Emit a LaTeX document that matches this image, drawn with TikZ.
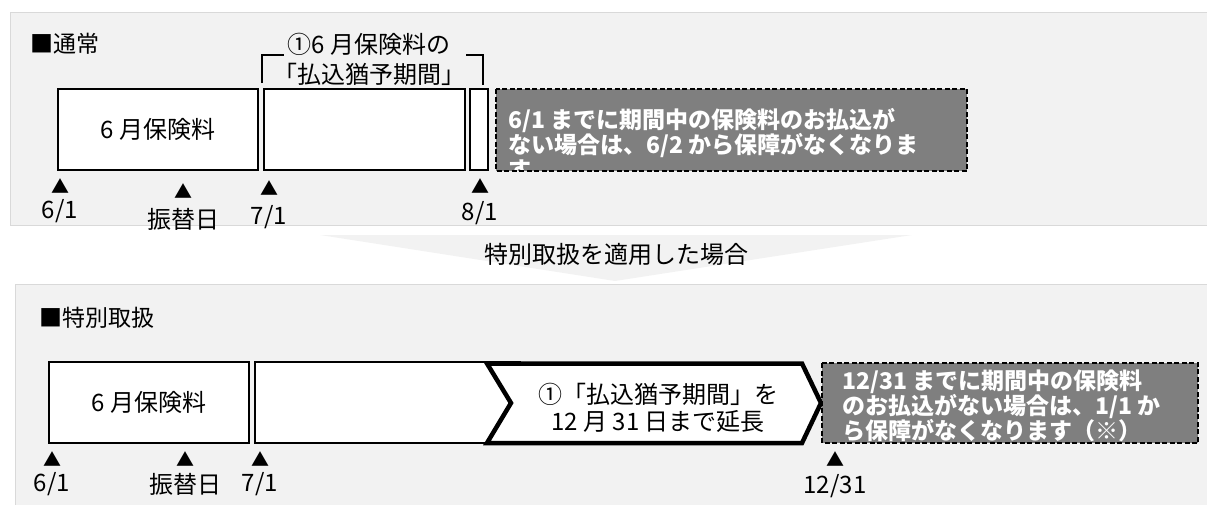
\documentclass[tikz,border=0pt]{standalone}
\usepackage{fontspec}
\setmainfont{Noto Sans CJK JP}
\usepackage{tikz}
\usetikzlibrary{positioning}
\definecolor{panelgray}{RGB}{242,242,242}
\definecolor{panelrule}{RGB}{217,217,217}
\definecolor{notegray}{RGB}{127,127,127}
\tikzset{
    panel/.style={draw=panelrule, fill=panelgray, line width=1pt},
    period/.style={shape=rectangle, draw=black, fill=white, line width=1.6pt, inner sep=0pt, minimum height=81pt, font=\fontsize{24}{28}\selectfont},
    note/.style={shape=rectangle, fill=notegray, inner sep=0pt, outer sep=0pt},
    notedash/.style={draw=black, line width=1.5pt, dash pattern=on 5pt off 2.5pt},
    notetext/.style={anchor=north west, inner sep=0pt, align=left, text=white, font=\bfseries\fontsize{23}{25}\selectfont},
    txt/.style={inner sep=0pt, font=\fontsize{24}{28}\selectfont},
    title/.style={inner sep=0pt, anchor=west, font=\fontsize{23}{28}\selectfont},
    tri/.style={inner sep=0pt, font=\fontsize{18}{18}\selectfont},
    brace/.style={line width=1.6pt},
    chev/.style={draw=black, fill=white, line width=4.5pt, miter limit=10},
}

\begin{document}
\begin{tikzpicture}[x=1pt, y=-1pt]

    \useasboundingbox (0,0) rectangle (1207,504);

    \draw[panel] (10,12) rectangle (1230,225);
    \draw[panel] (15,284) rectangle (1230,530);
    \fill[panelgray] (320,235) -- (912,235) -- (615,281) -- cycle;
    \node[txt] (apply) at (616,254) {特別取扱を適用した場合};

    \node[title] (normal) at (30,43.5) {■通常};
    \node[period, minimum width=200pt] (pA) at (158,129.5) {6 月保険料};
    \node[period, minimum width=201pt] (pB) at (364.5,129.5) {};
    \node[period, minimum width=18pt] (pC) at (479,129.5) {};
    \draw[brace] (262,83) |- (284,55);
    \draw[brace] (466,55) -| (483,85);
    \node[txt, align=center, anchor=north, font=\fontsize{24}{30}\selectfont] (grace) at (369,33) {①6 月保険料の\\「払込猶予期間」};

    \node[note, minimum width=471pt, minimum height=82pt] (nA) at (731.5,130) {};
    \begin{scope}
        \clip (nA.north west) rectangle (nA.south east);
        \node[notetext] (nAtext) at (508,108) {6/1 までに期間中の保険料のお払込が\\ない場合は、6/2 から保障がなくなりま\\す};
    \end{scope}
    \draw[notedash] (nA.north west) rectangle (nA.south east);

    \node[tri] (t61) at (60,186) {▲};
    \node[txt, below=6pt of t61] (d61) {6/1};
    \node[tri] (tfr) at (183,191) {▲};
    \node[txt, below=10pt of tfr] (dfr) {振替日};
    \node[tri] (t71) at (269,188) {▲};
    \node[txt, below=10pt of t71] (d71) {7/1};
    \node[tri] (t81) at (480,186) {▲};
    \node[txt, below=8pt of t81] (d81) {8/1};

    \node[title] (special) at (39,318) {■特別取扱};
    \node[period, minimum width=200pt] (sA) at (149,402.5) {6 月保険料};
    \node[period, minimum width=265pt] (sB) at (387.5,402.5) {};
    \draw[chev] (487,363.5) -- (802,363.5) -- (821,403) -- (802,443) -- (487,443) -- (511,403) -- cycle;
    \node[txt, align=center, anchor=north, font=\fontsize{24}{27}\selectfont] (extend) at (658,383) {①「払込猶予期間」を\\12 月 31 日まで延長};

    \node[note, minimum width=376pt, minimum height=80pt] (nB) at (1010,403) {};
    \node[notetext] (nBtext) at (842,370) {12/31 までに期間中の保険料\\のお払込がない場合は、1/1 か\\ら保障がなくなります（※）};
    \draw[notedash] (nB.north west) rectangle (nB.south east);

    \node[tri] (s61) at (52,459) {▲};
    \node[txt, below=6pt of s61] (e61) {6/1};
    \node[tri] (sfr) at (185,459) {▲};
    \node[txt, below=6pt of sfr] (efr) {振替日};
    \node[tri] (s71) at (260,459) {▲};
    \node[txt, below=6pt of s71] (e71) {7/1};
    \node[tri] (s1231) at (835,459) {▲};
    \node[txt, below=8pt of s1231] (e1231) {12/31};

\end{tikzpicture}
\end{document}
